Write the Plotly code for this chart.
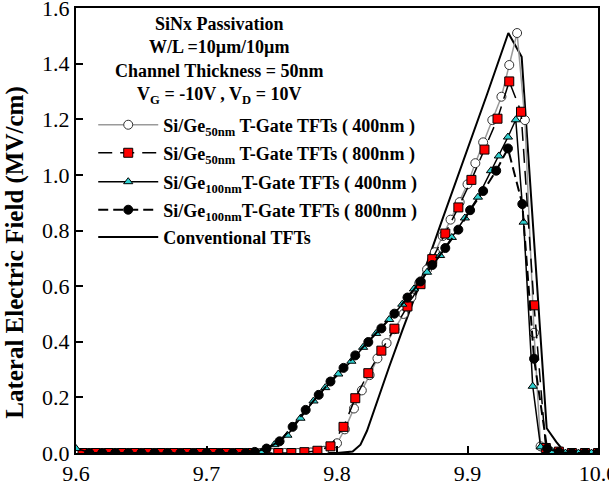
import plotly.graph_objects as go

FONT = "Liberation Serif, Times New Roman, serif"

# Si/Ge50nm T-Gate TFTs (400nm) - open circles
s1_x = [9.60, 9.61, 9.62, 9.63, 9.64, 9.65, 9.66, 9.67, 9.68, 9.69, 9.70, 9.71, 9.72, 9.73, 9.74, 9.75, 9.76, 9.77, 9.78, 9.79,
        9.800, 9.806, 9.813, 9.819, 9.825, 9.831, 9.838, 9.844, 9.851, 9.857, 9.863, 9.869, 9.875, 9.881, 9.887, 9.894,
        9.900, 9.906, 9.912, 9.919, 9.926, 9.932, 9.938, 9.944, 9.951, 9.956, 9.963, 9.970, 9.980, 9.990, 10.000]
s1_y = [0, 0, 0, 0, 0, 0, 0, 0, 0, 0, 0, 0, 0, 0, 0, 0, 0, 0, 0.002, 0.008,
        0.035, 0.085, 0.160, 0.225, 0.280, 0.340, 0.395, 0.445, 0.500, 0.560, 0.610, 0.660, 0.722, 0.780, 0.839, 0.902,
        0.966, 1.042, 1.117, 1.197, 1.281, 1.395, 1.510, 1.197, 0.432, 0.024, 0.005, 0, 0, 0, 0]

# Si/Ge50nm T-Gate TFTs (800nm) - red squares
s2_x = [9.605, 9.615, 9.625, 9.635, 9.645, 9.655, 9.665, 9.675, 9.685, 9.695, 9.705, 9.715, 9.725, 9.735, 9.745, 9.755, 9.765, 9.775, 9.785,
        9.795, 9.805, 9.814, 9.824, 9.834, 9.844, 9.854, 9.864, 9.873, 9.883, 9.893, 9.903, 9.913, 9.923, 9.932, 9.941,
        9.951, 9.960, 9.970, 9.980, 9.990, 10.000]
s2_y = [0, 0, 0, 0, 0, 0, 0, 0, 0, 0, 0, 0, 0, 0, 0, 0, 0, 0.003, 0.008,
        0.024, 0.094, 0.197, 0.287, 0.368, 0.447, 0.527, 0.607, 0.697, 0.789, 0.883, 0.982, 1.091, 1.202, 1.336, 1.227,
        0.531, 0.018, 0.005, 0, 0, 0]

# Si/Ge100nm T-Gate TFTs (400nm) - cyan triangles
s3_x = [9.600, 9.612, 9.622, 9.632, 9.642, 9.652, 9.662, 9.672, 9.682, 9.692, 9.702, 9.712, 9.722, 9.732, 9.742,
        9.752, 9.762, 9.772, 9.782, 9.791, 9.801, 9.811, 9.820, 9.830, 9.840, 9.850, 9.859, 9.869, 9.879, 9.888,
        9.898, 9.908, 9.918, 9.924, 9.931, 9.937, 9.943, 9.950, 9.956, 9.965, 9.975, 9.985, 9.995]
s3_y = [0.016, 0, 0, 0, 0, 0, 0, 0, 0, 0, 0, 0, 0, 0, 0.003,
        0.030, 0.064, 0.125, 0.187, 0.235, 0.284, 0.330, 0.380, 0.430, 0.480, 0.535, 0.590, 0.650, 0.710, 0.775,
        0.845, 0.920, 1.015, 1.068, 1.136, 1.198, 0.830, 0.240, 0.022, 0.005, 0, 0, 0]

# Si/Ge100nm T-Gate TFTs (800nm) - black circles
s4_x = [9.610, 9.620, 9.630, 9.640, 9.650, 9.660, 9.670, 9.680, 9.690, 9.700, 9.710, 9.720, 9.730, 9.737,
        9.746, 9.756, 9.766, 9.776, 9.786, 9.795, 9.805, 9.814, 9.824, 9.834, 9.844, 9.854, 9.864, 9.873, 9.883,
        9.893, 9.902, 9.912, 9.922, 9.931, 9.942, 9.951, 9.961, 9.970, 9.980, 9.990, 10.000]
s4_y = [0, 0, 0, 0, 0, 0, 0, 0, 0, 0, 0, 0, 0, 0.004,
        0.016, 0.042, 0.094, 0.155, 0.209, 0.257, 0.306, 0.351, 0.399, 0.448, 0.501, 0.559, 0.617, 0.676, 0.737,
        0.803, 0.873, 0.942, 1.015, 1.095, 0.895, 0.339, 0.016, 0.003, 0, 0, 0]

# Conventional TFTs - solid line
s5_x = [9.600, 9.800, 9.812, 9.818, 9.823, 9.828, 9.833, 9.840, 9.850, 9.862, 9.880, 9.900, 9.915, 9.9313, 9.9415, 9.9607, 9.968, 9.975, 10.000]
s5_y = [0, 0, 0.005, 0.03, 0.08, 0.15, 0.22, 0.31, 0.44, 0.59, 0.83, 1.09, 1.29, 1.510, 1.425, 0.089, 0.04, 0, 0]

x_ticks = [9.6, 9.7, 9.8, 9.9, 10.0]
x_tick_labels = ["9.6", "9.7", "9.8", "9.9", "10.0"]
y_ticks = [0.0, 0.2, 0.4, 0.6, 0.8, 1.0, 1.2, 1.4, 1.6]
y_tick_labels = ["0.0", "0.2", "0.4", "0.6", "0.8", "1.0", "1.2", "1.4", "1.6"]

names = [
    "Si/Ge<sub>50nm</sub> T-Gate TFTs ( 400nm )",
    "Si/Ge<sub>50nm</sub> T-Gate TFTs ( 800nm )",
    "Si/Ge<sub>100nm</sub>T-Gate TFTs ( 400nm )",
    "Si/Ge<sub>100nm</sub>T-Gate TFTs ( 800nm )",
    "Conventional TFTs",
]

fig = go.Figure()

fig.add_trace(go.Scatter(
    x=s5_x, y=s5_y, mode="lines", name=names[4], legend="legend5",
    line=dict(color="black", width=2)))
fig.add_trace(go.Scatter(
    x=s1_x, y=s1_y, mode="lines+markers", name=names[0], legend="legend",
    line=dict(color="#9a9a9a", width=1.5),
    marker=dict(symbol="circle", size=9, color="white", line=dict(color="#333333", width=1))))
fig.add_trace(go.Scatter(
    x=s2_x, y=s2_y, mode="lines+markers", name=names[1], legend="legend2",
    line=dict(color="black", width=1.5, dash="14px,8px"),
    marker=dict(symbol="square", size=9, color="#ff0000", line=dict(color="black", width=1))))
fig.add_trace(go.Scatter(
    x=s3_x, y=s3_y, mode="lines+markers", name=names[2], legend="legend3",
    line=dict(color="black", width=1.5),
    marker=dict(symbol="triangle-up", size=8, color="#2ecfcf", line=dict(color="black", width=1))))
fig.add_trace(go.Scatter(
    x=s4_x, y=s4_y, mode="lines+markers", name=names[3], legend="legend4",
    line=dict(color="black", width=2, dash="10px,5px"),
    marker=dict(symbol="circle", size=9, color="black", line=dict(color="black", width=1))))

fig.add_annotation(
    xref="paper", yref="paper", x=0.274, y=0.991, xanchor="center", yanchor="top",
    text="SiNx Passivation<br>W/L =10µm/10µm<br>Channel Thickness = 50nm<br>V<sub>G</sub> = -10V , V<sub>D</sub> = 10V",
    showarrow=False, align="center",
    font=dict(family=FONT, size=18, color="black", weight="bold"))

# y-axis title
fig.add_annotation(
    xref="paper", yref="paper", x=-0.117, y=0.452, xanchor="center", yanchor="middle",
    text="Lateral Electric Field (MV/cm)", textangle=-90, showarrow=False,
    font=dict(family=FONT, size=25, color="black", weight="bold"))

legend_rows = [0.737, 0.674, 0.609, 0.546, 0.485]


def leg(yv):
    return dict(
        x=0.033, y=yv, xanchor="left", yanchor="middle",
        bgcolor="rgba(0,0,0,0)", borderwidth=0,
        font=dict(family=FONT, size=18, color="black", weight="bold"),
        itemwidth=60,
    )


fig.update_layout(
    width=609, height=491,
    margin=dict(l=76, r=11, t=8, b=38, autoexpand=False),
    paper_bgcolor="white", plot_bgcolor="white",
    font=dict(family=FONT, color="black"),
    showlegend=True,
    legend=leg(legend_rows[0]),
    legend2=leg(legend_rows[1]),
    legend3=leg(legend_rows[2]),
    legend4=leg(legend_rows[3]),
    legend5=leg(legend_rows[4]),
    xaxis=dict(
        range=[9.6, 10.0], tickvals=x_ticks, ticktext=x_tick_labels,
        ticks="inside", ticklen=7, tickwidth=1.5, tickcolor="black",
        showline=True, linecolor="black", linewidth=2, mirror=True,
        showgrid=False, zeroline=False, ticklabeloverflow="allow", automargin=False,
        tickfont=dict(family=FONT, size=22, color="black"),
    ),
    yaxis=dict(
        range=[0, 1.6], tickvals=y_ticks, ticktext=y_tick_labels,
        ticks="inside", ticklen=7, tickwidth=1.5, tickcolor="black",
        showline=True, linecolor="black", linewidth=2, mirror=True,
        showgrid=False, zeroline=False, ticklabeloverflow="allow", automargin=False,
        tickfont=dict(family=FONT, size=22, color="black"),
    ),
)

fig.write_html("out.html")
